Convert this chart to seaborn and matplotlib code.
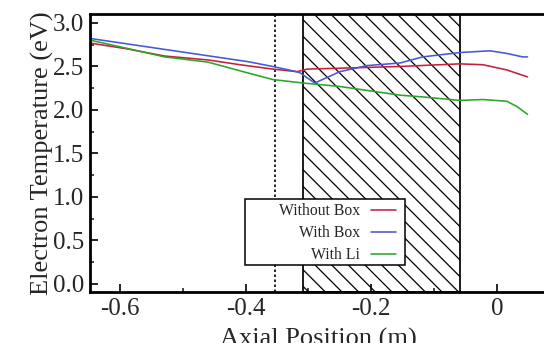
import numpy as np
import pandas as pd
import matplotlib as mpl
mpl.use("Agg")
import matplotlib.pyplot as plt
from matplotlib.patches import Rectangle
import seaborn as sns

# Data
x_without = [-0.646, -0.587, -0.529, -0.46, -0.409, -0.357, -0.318, -0.302, -0.25, -0.154, -0.059, -0.022, 0.016, 0.049]
y_without = [2.767, 2.70, 2.62, 2.575, 2.52, 2.47, 2.44, 2.47, 2.48, 2.50, 2.53, 2.52, 2.46, 2.38]

x_box = [-0.646, -0.396, -0.357, -0.325, -0.314, -0.29, -0.25, -0.207, -0.154, -0.118, -0.059, -0.011, 0.016, 0.041, 0.049]
y_box = [2.82, 2.555, 2.50, 2.45, 2.43, 2.31, 2.44, 2.51, 2.54, 2.61, 2.66, 2.68, 2.65, 2.61, 2.61]

x_li = [-0.646, -0.529, -0.46, -0.409, -0.357, -0.309, -0.25, -0.154, -0.118, -0.059, -0.022, 0.016, 0.032, 0.049]
y_li = [2.80, 2.61, 2.55, 2.45, 2.35, 2.31, 2.27, 2.17, 2.15, 2.11, 2.12, 2.10, 2.04, 1.95]

labels = ["Without Box", "With Box", "With Li"]
colors = ["#c81e3c", "#4458d8", "#2aa52a"]

box_start, box_end = -0.309, -0.059
dotted_x = -0.354

df = pd.concat([
    pd.DataFrame({"x": x_without, "y": y_without, "case": labels[0]}),
    pd.DataFrame({"x": x_box, "y": y_box, "case": labels[1]}),
    pd.DataFrame({"x": x_li, "y": y_li, "case": labels[2]}),
])

sns.set_theme(style="ticks")
plt.rcParams["font.family"] = ["Liberation Serif", "DejaVu Serif"]
plt.rcParams["hatch.linewidth"] = 0.9

fig = plt.figure(figsize=(5.44, 3.43), dpi=100)
ax = fig.add_axes([90 / 544, 51 / 343, 457 / 544, 278 / 343])

sns.lineplot(data=df, x="x", y="y", hue="case", palette=colors, sort=False,
             estimator=None, linewidth=1.15, ax=ax)

# hatched region and dotted marker line
ax.axvspan(box_start, box_end, fill=False, hatch="\\\\", edgecolor="black",
           linewidth=1.25, zorder=1)
ax.axvline(dotted_x, color="black", linestyle=(0, (1.5, 1.5)), linewidth=1.2, zorder=1)

ax.set_xlim(-0.648, 0.08)
ax.set_ylim(-0.092, 3.103)
ax.set_xticks([-0.6, -0.4, -0.2, 0])
ax.set_xticklabels(["-0.6", "-0.4", "-0.2", "0"])
ax.set_xticks([-0.5, -0.3, -0.1], minor=True)
ax.set_yticks(np.arange(0, 3.01, 0.5))
ax.set_yticks(np.arange(0.25, 3.0, 0.5), minor=True)

ax.set_xlabel("Axial Position (m)", fontsize=19, labelpad=5.5)
ax.set_ylabel("Electron Temperature (eV)", fontsize=19, labelpad=-1)

ax.tick_params(which="major", direction="in", length=5.5, width=1.4, labelsize=18, pad=4.5,
               top=False, right=False)
ax.tick_params(which="minor", direction="in", length=3, width=1.2, top=False, right=False)

for s in ["left", "bottom", "top"]:
    ax.spines[s].set_linewidth(2.0)
    ax.spines[s].set_color("black")
ax.spines["right"].set_visible(False)

# legend: text right-aligned, line after text, inside a plain square frame
handles, _ = ax.get_legend_handles_labels()
leg = ax.legend(handles, labels, loc="lower right", bbox_to_anchor=(0.669, 0.103),
                borderaxespad=0, borderpad=0, markerfirst=False, fontsize=11.3,
                frameon=False, handlelength=1.6, handletextpad=0.7, labelspacing=0.38)
leg.set_zorder(6)
frame = Rectangle((0.339, 0.097), 0.35, 0.238, transform=ax.transAxes,
                  facecolor="white", edgecolor="black", linewidth=1.1, zorder=5)
ax.add_patch(frame)

fig.savefig("out.png", dpi=100)
